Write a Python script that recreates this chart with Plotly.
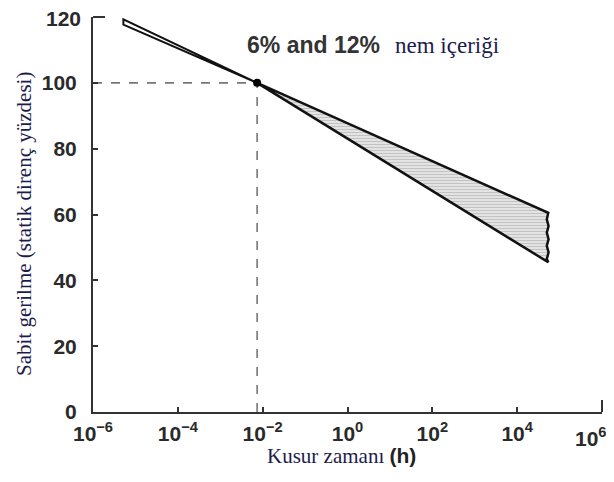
import plotly.graph_objects as go

# ---- data ----
time_h = [5.2e-6, 0.0074, 5.4e4]          # start tip, crossing point, end
stress_upper = [119.3, 100.0, 60.5]        # % of static strength
stress_lower = [117.7, 100.0, 45.5]
edge_time = [5.4e4, 5.0e4, 5.5e4, 5.0e4, 5.5e4, 5.0e4, 5.5e4, 5.0e4, 5.4e4]
edge_stress = [60.5, 58.5, 56.5, 54.5, 52.5, 50.5, 48.5, 46.5, 45.5]
cross_time = 0.0074
cross_stress = 100.0

x_tickvals = [1e-6, 1e-4, 1e-2, 1e0, 1e2, 1e4, 1e6]
x_ticktext = ["10<sup>−6</sup>", "10<sup>−4</sup>", "10<sup>−2</sup>", "10<sup>0</sup>",
              "10<sup>2</sup>", "10<sup>4</sup>", ""]
last_x_label = "10<sup>6</sup>"
y_tickvals = [0, 20, 40, 60, 80, 100, 120]
y_ticktext = ["0", "20", "40", "60", "80", "100", ""]
top_y_label = "120"

serif = "Liberation Serif, Times New Roman, serif"
sans = "Liberation Sans, Arial, sans-serif"
navy = "#1c1c4c"
ink = "#2a2a2a"

# page body has an 8px default margin -> figure sits at (8, 8) in the window
OFF = 8
W, H = 614 - OFF, 482 - OFF
PL, PR, PT, PB = 93, 602, 17, 412          # plot area in window pixels
PW, PH = PR - PL, PB - PT


def px(x):
    return (x - PL) / PW


def py(y):
    return (PB - y) / PH


fig = go.Figure()

# hatched band (crossing point -> upper end -> wavy edge -> lower end -> back)
poly_x = [time_h[1], time_h[2]] + edge_time + [time_h[2], time_h[1]]
poly_y = [stress_upper[1], stress_upper[2]] + edge_stress + [stress_lower[2], stress_lower[1]]
fig.add_trace(go.Scatter(
    x=poly_x, y=poly_y, mode="lines", fill="toself",
    fillcolor="#dedede",
    fillpattern=dict(shape="-", fgcolor="#a4a4a4", bgcolor="#e3e3e3", size=3, solidity=0.35),
    line=dict(color="#111", width=2.5), hoverinfo="skip", showlegend=False))

# thin lobe on the left
lobe_x = [time_h[1], time_h[0], time_h[0], time_h[1]]
lobe_y = [stress_upper[1], stress_upper[0], stress_lower[0], stress_lower[1]]
fig.add_trace(go.Scatter(x=lobe_x, y=lobe_y, mode="lines", fill="toself",
                         fillcolor="white", line=dict(color="#111", width=2),
                         hoverinfo="skip", showlegend=False))

# dashed guide lines
fig.add_trace(go.Scatter(x=[1e-6, cross_time], y=[cross_stress, cross_stress], mode="lines",
                         line=dict(color="#777", width=1.6, dash="dash"), showlegend=False))
fig.add_trace(go.Scatter(x=[cross_time, cross_time], y=[0, cross_stress], mode="lines",
                         line=dict(color="#777", width=1.6, dash="dash"), showlegend=False))

# crossing dot
fig.add_trace(go.Scatter(x=[cross_time], y=[cross_stress], mode="markers",
                         marker=dict(color="#000", size=8), showlegend=False))

fig.update_layout(
    width=W, height=H,
    margin=dict(l=PL - OFF, r=W - (PR - OFF), t=PT - OFF, b=H - (PB - OFF), pad=0),
    paper_bgcolor="white", plot_bgcolor="white",
    xaxis=dict(type="log", range=[-6, 6], tickvals=x_tickvals, ticktext=x_ticktext,
               automargin=False,
               showgrid=False, zeroline=False, showline=True, linecolor="#333", linewidth=2,
               ticks="inside", ticklen=5, tickwidth=2, tickcolor="#333",
               tickfont=dict(family=sans, size=21, color=ink, weight="bold"),
               ticklabelstandoff=2),
    yaxis=dict(range=[0, 120], tickvals=y_tickvals, ticktext=y_ticktext,
               showgrid=False, zeroline=False, automargin=False,
               showline=True, linecolor="#333", linewidth=2,
               ticks="inside", ticklen=5, tickwidth=2, tickcolor="#333",
               tickfont=dict(family=sans, size=21, color=ink, weight="bold"),
               ticklabelstandoff=10),
    shapes=[
        dict(type="line", xref="paper", yref="paper", x0=0, x1=12 / PW, y0=1, y1=1,
             line=dict(color="#333", width=2)),
        dict(type="line", xref="paper", yref="paper", x0=1, x1=1, y0=0, y1=12 / PH,
             line=dict(color="#333", width=2)),
    ],
    annotations=[
        dict(text=top_y_label, xref="paper", yref="paper",
             x=px(83), y=py(18), xanchor="right", yanchor="middle",
             showarrow=False, font=dict(family=sans, size=21, color=ink, weight="bold")),
        dict(text=last_x_label, xref="paper", yref="paper",
             x=px(609), y=py(437), xanchor="right", yanchor="middle",
             showarrow=False, font=dict(family=sans, size=21, color=ink, weight="bold")),
        dict(text="<b>6% and 12%</b>", xref="paper", yref="paper",
             x=px(245), y=py(45), xanchor="left", yanchor="middle",
             showarrow=False, font=dict(family=sans, size=23, color="#333")),
        dict(text="nem içeriği", xref="paper", yref="paper",
             x=px(393), y=py(46), xanchor="left", yanchor="middle",
             showarrow=False, font=dict(family=serif, size=23, color=navy)),
        dict(text="Kusur zamanı <span style='font-family:Liberation Sans, Arial;color:#222'><b>(h)</b></span>",
             xref="paper", yref="paper", x=px(341), y=py(456),
             xanchor="center", yanchor="middle", showarrow=False,
             font=dict(family=serif, size=21, color=navy)),
        dict(text="Sabit gerilme (statik direnç yüzdesi)", xref="paper", yref="paper",
             x=px(24), y=py(224), xanchor="center", yanchor="middle",
             textangle=-90, showarrow=False, font=dict(family=serif, size=21, color=navy)),
    ],
)

fig.write_html("out.html")
